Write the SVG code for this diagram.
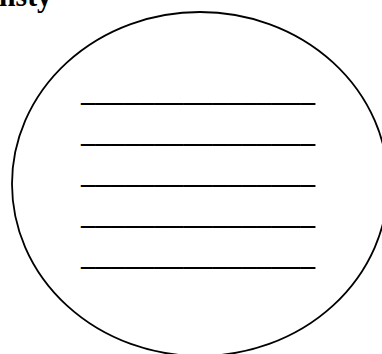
<svg xmlns="http://www.w3.org/2000/svg" width="382" height="354" viewBox="0 0 382 354">
<style>
.t{font-family:"Liberation Serif","Times New Roman",serif;font-weight:bold;font-size:31px;fill:#000}
.u{font-family:"Liberation Serif","Times New Roman",serif;font-weight:bold;font-size:29.33px;fill:#000}
</style>
<rect width="382" height="354" fill="#fff"/>
<g id="title"><text class="t" x="-1" y="6" textLength="53" lengthAdjust="spacingAndGlyphs">nsty</text></g>
<g id="circle">
<ellipse cx="200" cy="184" rx="188" ry="172" fill="none" stroke="#000" stroke-width="1.8"/>
<text class="u" x="81" y="101" textLength="234" lengthAdjust="spacingAndGlyphs">________________</text>
<text class="u" x="81" y="142" textLength="234" lengthAdjust="spacingAndGlyphs">________________</text>
<text class="u" x="81" y="183" textLength="234" lengthAdjust="spacingAndGlyphs">________________</text>
<text class="u" x="81" y="224" textLength="234" lengthAdjust="spacingAndGlyphs">________________</text>
<text class="u" x="81" y="265" textLength="234" lengthAdjust="spacingAndGlyphs">________________</text>
</g>
<g id="connectors"/>
</svg>
